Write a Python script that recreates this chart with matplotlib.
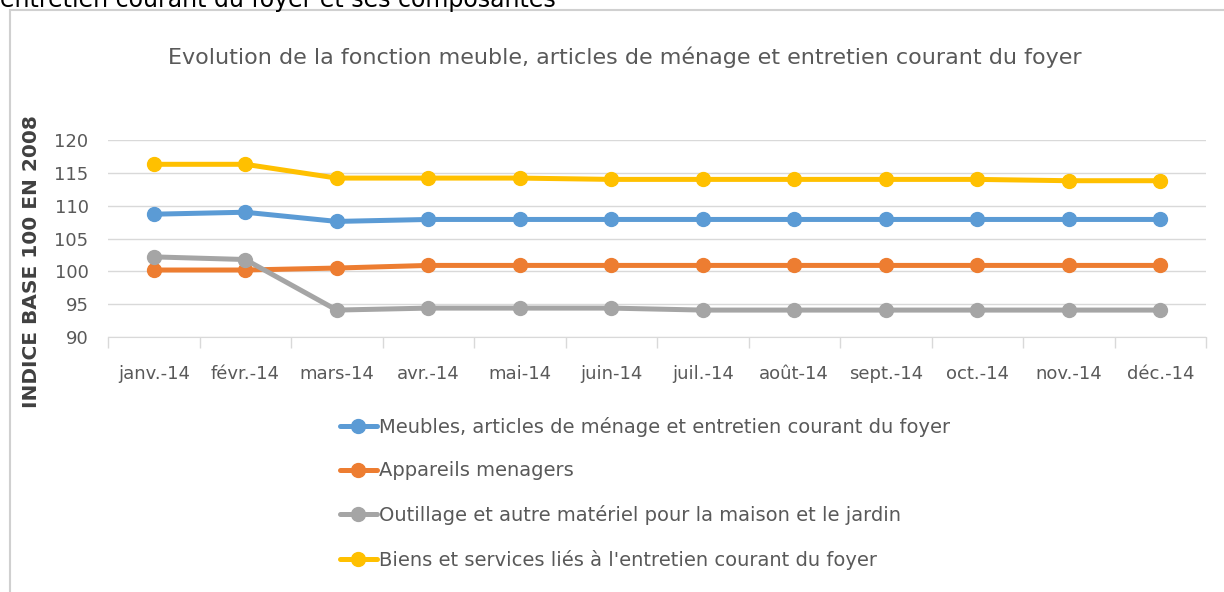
import matplotlib
matplotlib.use("Agg")
import matplotlib.pyplot as plt
from matplotlib import font_manager
from matplotlib.patches import Rectangle

months = ["janv.-14", "févr.-14", "mars-14", "avr.-14", "mai-14", "juin-14",
          "juil.-14", "août-14", "sept.-14", "oct.-14", "nov.-14", "déc.-14"]

meubles = [108.7, 109.0, 107.6, 107.9, 107.9, 107.9, 107.9, 107.9, 107.9, 107.9, 107.9, 107.9]
appareils = [100.2, 100.2, 100.5, 100.9, 100.9, 100.9, 100.9, 100.9, 100.9, 100.9, 100.9, 100.9]
outillage = [102.2, 101.8, 94.1, 94.4, 94.4, 94.4, 94.1, 94.1, 94.1, 94.1, 94.1, 94.1]
biens = [116.3, 116.3, 114.2, 114.2, 114.2, 114.0, 114.0, 114.0, 114.0, 114.0, 113.8, 113.8]

series_names = ["Meubles, articles de ménage et entretien courant du foyer",
                "Appareils menagers",
                "Outillage et autre matériel pour la maison et le jardin",
                "Biens et services liés à l'entretien courant du foyer"]
series_colors = ["#5B9BD5", "#ED7D31", "#A5A5A5", "#FFC000"]

y_ticks = [90, 95, 100, 105, 110, 115, 120]

available = {f.name for f in font_manager.fontManager.ttflist}
body_font = "Liberation Sans Narrow" if "Liberation Sans Narrow" in available else "DejaVu Sans"
plt.rcParams["font.family"] = [body_font, "DejaVu Sans"]

W, H = 1224, 592
fig = plt.figure(figsize=(W / 100, H / 100), dpi=100)

# chart frame (light grey border, continues past the right/bottom edge)
fig.patches.append(Rectangle((10 / W, -0.05), 1.1, 1 - 10 / H + 0.05,
                             transform=fig.transFigure, fill=False,
                             edgecolor="#D0D0D0", lw=1.5))

# heading of the page, cut off at the top
fig.text(0.0, 1 - 7 / H, "entretien courant du foyer et ses composantes",
         fontsize=17, color="black", family="DejaVu Sans", va="baseline", ha="left")

ax = fig.add_axes([108 / W, 1 - 337 / H, (1206 - 108) / W, (337 - 140) / H])

x = list(range(len(months)))
for vals, name, col in zip([meubles, appareils, outillage, biens], series_names, series_colors):
    ax.plot(x, vals, color=col, lw=3.6, marker="o", markersize=10, label=name,
            solid_capstyle="round")

ax.set_xlim(-0.5, len(months) - 0.5)
ax.set_ylim(90, 120)
ax.set_yticks(y_ticks)
ax.set_xticks(x)
ax.set_xticklabels(months)
ax.set_xticks([i - 0.5 for i in range(len(months) + 1)], minor=True)
ax.grid(axis="y", color="#D9D9D9", lw=1)
ax.set_axisbelow(True)
for s in ["top", "right", "left"]:
    ax.spines[s].set_visible(False)
ax.spines["bottom"].set_color("#D9D9D9")
ax.tick_params(axis="x", which="major", length=0, pad=20, labelsize=13, labelcolor="#595959")
ax.tick_params(axis="x", which="minor", length=8, color="#D9D9D9", width=1)
ax.tick_params(axis="y", length=0, pad=14, labelsize=13, labelcolor="#595959")

fig.text(32 / W, 1 - 262 / H, "INDICE BASE 100 EN 2008", rotation=90,
         fontsize=14.5, fontweight="bold", color="#404040", family="DejaVu Sans",
         ha="center", va="center")

fig.text(625 / W, 1 - 57 / H,
         "Evolution de la fonction meuble, articles de ménage et entretien courant du foyer",
         fontsize=16, color="#595959", ha="center", va="center")

ax.legend(loc="upper left", bbox_to_anchor=(340 / W, 1 - 417 / H),
          bbox_transform=fig.transFigure, frameon=False, fontsize=14,
          labelcolor="#595959", handlelength=1.9, handletextpad=0.1,
          labelspacing=1.26, borderpad=0, borderaxespad=0)

fig.savefig("out.png", dpi=100)
